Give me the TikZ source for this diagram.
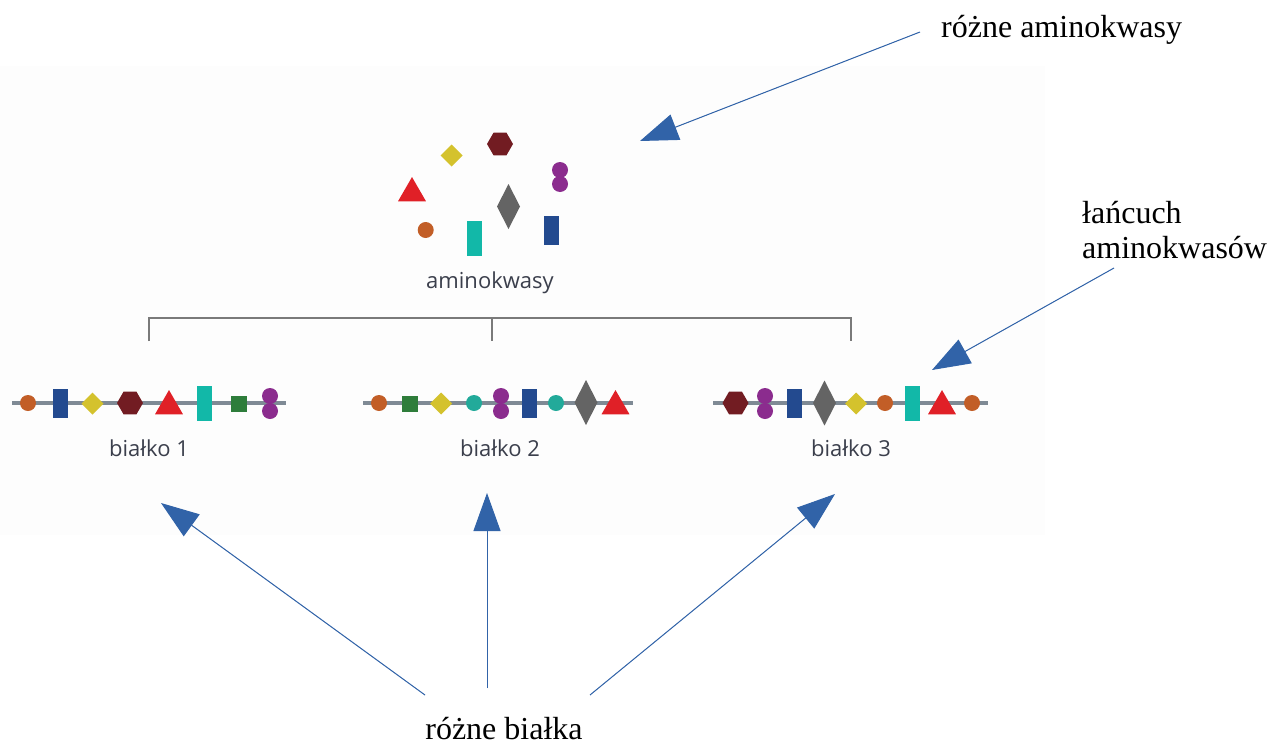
\documentclass[tikz,border=0pt]{standalone}
\usepackage{fontspec}
\setmainfont{Liberation Serif}
\newfontfamily\osans{Open Sans}
\usetikzlibrary{shapes.geometric,arrows.meta}
\definecolor{aaorange}{HTML}{C25E27}
\definecolor{aablue}{HTML}{234A8F}
\definecolor{aayellow}{HTML}{D4C22D}
\definecolor{aahex}{HTML}{721C22}
\definecolor{aared}{HTML}{E02027}
\definecolor{aateal}{HTML}{12B8A8}
\definecolor{aatealc}{HTML}{22AA9A}
\definecolor{aagreen}{HTML}{2E7D3B}
\definecolor{aapurple}{HTML}{8B2C8E}
\definecolor{aagray}{HTML}{646464}
\definecolor{chainc}{HTML}{7F8A95}
\definecolor{brk}{HTML}{7A7A7A}
\definecolor{arrc}{HTML}{3163A8}
\definecolor{lbl}{HTML}{3B3F4C}
\tikzset{
  sh/.style={draw=none,inner sep=0pt,outer sep=0pt},
  ball/.style={sh,circle,minimum size=16pt,fill=aaorange},
  tball/.style={sh,circle,minimum size=16pt,fill=aatealc},
  pball/.style={sh,circle,minimum size=16pt,fill=aapurple},
  brect/.style={sh,rectangle,minimum width=15pt,minimum height=29pt,fill=aablue},
  trect/.style={sh,rectangle,minimum width=15pt,minimum height=35pt,fill=aateal},
  gsq/.style={sh,rectangle,minimum width=16pt,minimum height=16pt,fill=aagreen},
  ydia/.style={sh,diamond,minimum width=22pt,minimum height=22pt,fill=aayellow},
  gdia/.style={sh,diamond,minimum width=23pt,minimum height=45pt,fill=aagray},
  hexa/.style={sh,regular polygon,regular polygon sides=6,minimum size=26pt,fill=aahex},
  tri/.style={sh,regular polygon,regular polygon sides=3,minimum size=32.3pt,fill=aared},
  chain/.style={draw=chainc,line width=4pt},
  brack/.style={draw=brk,line width=2pt},
  slabel/.style={font=\osans\fontsize{22}{26}\selectfont,text=lbl,inner sep=0pt,anchor=base},
  blabel/.style={font=\fontsize{32}{36}\selectfont,text=black,inner sep=0pt},
  arr/.style={draw=arrc,line width=1pt,-{Triangle[length=38pt,width=27pt]},fill=arrc},
}
\begin{document}
\begin{tikzpicture}[x=1pt,y=-1pt]
\useasboundingbox (0,0) rectangle (1269,744);
\fill[black!0.6] (0,66) rectangle (1045,535);

% amino acid cluster
\node[hexa] (c_hex) at (500,144) {};
\node[ydia] (c_yd) at (451.5,155.5) {};
\node[pball] (c_p1) at (560,170) {};
\node[pball] (c_p2) at (560,184) {};
\node[tri] (c_tri) at (412,193.2) {};
\node[gdia] (c_gd) at (508.5,206.5) {};
\node[ball] (c_or) at (425.7,230) {};
\node[trect] (c_tr) at (474,238.5) {};
\node[brect] (c_br) at (551.5,230.5) {};
\node[slabel] (lab_aa) at (490,288) {aminokwasy};

% bracket
\coordinate (b1) at (149,341);
\coordinate (b2) at (492,341);
\coordinate (b3) at (851,341);
\coordinate (b1t) at (149,318);
\coordinate (b2t) at (492,318);
\coordinate (b3t) at (851,318);
\draw[brack] (b1) -- (b1t) -- (b3t) -- (b3);
\draw[brack] (b2t) -- (b2);

% chain 1
\coordinate (c1a) at (12,403);
\coordinate (c1b) at (286,403);
\draw[chain] (c1a) -- (c1b);
\node[ball] (p1_1) at (28,403) {};
\node[brect] (p1_2) at (60.5,403.5) {};
\node[ydia] (p1_3) at (92.5,403.5) {};
\node[hexa] (p1_4) at (130,403) {};
\node[tri] (p1_5) at (169,406.2) {};
\node[trect] (p1_6) at (204.5,403.5) {};
\node[gsq] (p1_7) at (239,403.5) {};
\node[pball] (p1_8a) at (270,396) {};
\node[pball] (p1_8b) at (270,411) {};
\node[slabel] (lab_b1) at (149,456) {białko 1};

% chain 2
\coordinate (c2a) at (363,403);
\coordinate (c2b) at (633,403);
\draw[chain] (c2a) -- (c2b);
\node[ball] (p2_1) at (379,403) {};
\node[gsq] (p2_2) at (410,403.5) {};
\node[ydia] (p2_3) at (441,403.5) {};
\node[tball] (p2_4) at (474,403) {};
\node[pball] (p2_5a) at (501,396) {};
\node[pball] (p2_5b) at (501,411) {};
\node[brect] (p2_6) at (529.5,403.5) {};
\node[tball] (p2_7) at (556,403) {};
\node[gdia] (p2_8) at (586,402.5) {};
\node[tri] (p2_9) at (615.5,406.2) {};
\node[slabel] (lab_b2) at (500,456) {białko 2};

% chain 3
\coordinate (c3a) at (713,403);
\coordinate (c3b) at (988,403);
\draw[chain] (c3a) -- (c3b);
\node[hexa] (p3_1) at (735.5,403) {};
\node[pball] (p3_2a) at (765,396) {};
\node[pball] (p3_2b) at (765,411) {};
\node[brect] (p3_3) at (794.5,403.5) {};
\node[gdia] (p3_4) at (824.5,403) {};
\node[ydia] (p3_5) at (856,403.5) {};
\node[ball] (p3_6) at (885,403) {};
\node[trect] (p3_7) at (912.5,403.5) {};
\node[tri] (p3_8) at (942,406.2) {};
\node[ball] (p3_9) at (972,403) {};
\node[slabel] (lab_b3) at (851,456) {białko 3};

% outer labels
\node[blabel,anchor=base west] (t_ra) at (941,37) {różne aminokwasy};
\node[blabel,anchor=base west] (t_l1) at (1082,223) {łańcuch};
\node[blabel,anchor=base west] (t_l2) at (1082,258) {aminokwasów};
\node[blabel,anchor=base] (t_rb) at (504,739) {różne białka};

% arrow start / tip points
\coordinate (s1) at (920,32);
\coordinate (e1) at (640,141);
\coordinate (s2) at (1114,268);
\coordinate (e2) at (932,370);
\coordinate (s3) at (425,695);
\coordinate (e3) at (161,503);
\coordinate (s4) at (487,688);
\coordinate (e4) at (487,493);
\coordinate (s5) at (590,695);
\coordinate (e5) at (835,494);
\draw[arr] (s1) -- (e1);
\draw[arr] (s2) -- (e2);
\draw[arr] (s3) -- (e3);
\draw[arr] (s4) -- (e4);
\draw[arr] (s5) -- (e5);
\end{tikzpicture}
\end{document}
